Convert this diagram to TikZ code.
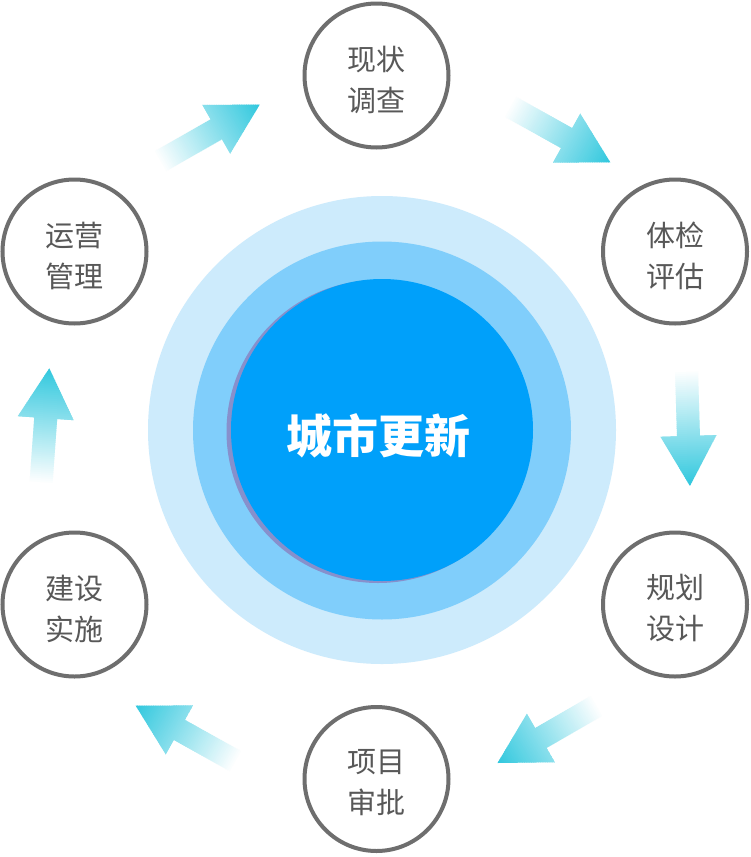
\documentclass[tikz,border=0pt]{standalone}
\usepackage{fontspec}
\newfontfamily\cjk{Noto Sans CJK SC}
\definecolor{ringout}{HTML}{CDEBFC}
\definecolor{ringmid}{HTML}{80CEFB}
\definecolor{coreblue}{HTML}{00A0FA}
\definecolor{coreshadow}{HTML}{8790CC}
\definecolor{arrowcyan}{RGB}{50,200,222}
\definecolor{ringgray}{HTML}{6E6E6E}
\definecolor{txtgray}{HTML}{585858}
\tikzset{
  stagecircle/.style={circle, draw=ringgray, line width=4pt, minimum size=144pt, inner sep=0pt},
  stagetext/.style={text=txtgray, align=center, font=\cjk\fontsize{29}{41}\selectfont, inner sep=0pt},
  coretext/.style={text=white, font=\cjk\bfseries\fontsize{46}{50}\selectfont, inner sep=0pt}
}
\newcommand{\gradarrow}[2]{%
  \begin{scope}[shift={#1}, rotate=#2]
    \clip (0,-11.5) -- (66,-11.5) -- (66,-28) -- (116,0) -- (66,28) -- (66,11.5) -- (0,11.5) -- cycle;
    \foreach \i in {0,...,57} {%
      \pgfmathsetmacro\p{\i*100/57}%
      \fill[arrowcyan!\p!white] (\i*2,-30) rectangle (\i*2+2.6,30);
    }
  \end{scope}}
\begin{document}
\begin{tikzpicture}[x=1pt, y=-1pt]
\useasboundingbox[fill=white] (0,0) rectangle (751,857);
% central rings
\fill[ringout] (382,430) circle (234);
\fill[ringmid] (382,430.5) circle (189);
\fill[coreshadow] (378,431.5) circle (151.5);
\fill[coreblue] (382,430) circle (151);
\node[coretext] (core) at (378,436) {城市更新};
% stage circles
\node[stagecircle] (s1) at (376.5,75.5) {};
\node[stagecircle] (s2) at (675,251.5) {};
\node[stagecircle] (s3) at (675,604.5) {};
\node[stagecircle] (s4) at (376.5,779) {};
\node[stagecircle] (s5) at (74.5,604.5) {};
\node[stagecircle] (s6) at (74.5,251.5) {};
\node[stagetext] (t1) at (376.5,79.5) {现状\\调查};
\node[stagetext] (t2) at (675,255.5) {体检\\评估};
\node[stagetext] (t3) at (675,608.5) {规划\\设计};
\node[stagetext] (t4) at (376.5,783) {项目\\审批};
\node[stagetext] (t5) at (74.5,608.5) {建设\\实施};
\node[stagetext] (t6) at (74.5,255.5) {运营\\管理};
% arrows
\gradarrow{(159,162)}{29.7}
\gradarrow{(509,106)}{-29.1}
\gradarrow{(686.5,370)}{-88.3}
\gradarrow{(598,705)}{-150}
\gradarrow{(237,762)}{150.9}
\gradarrow{(41,484)}{85.9}
\end{tikzpicture}
\end{document}
